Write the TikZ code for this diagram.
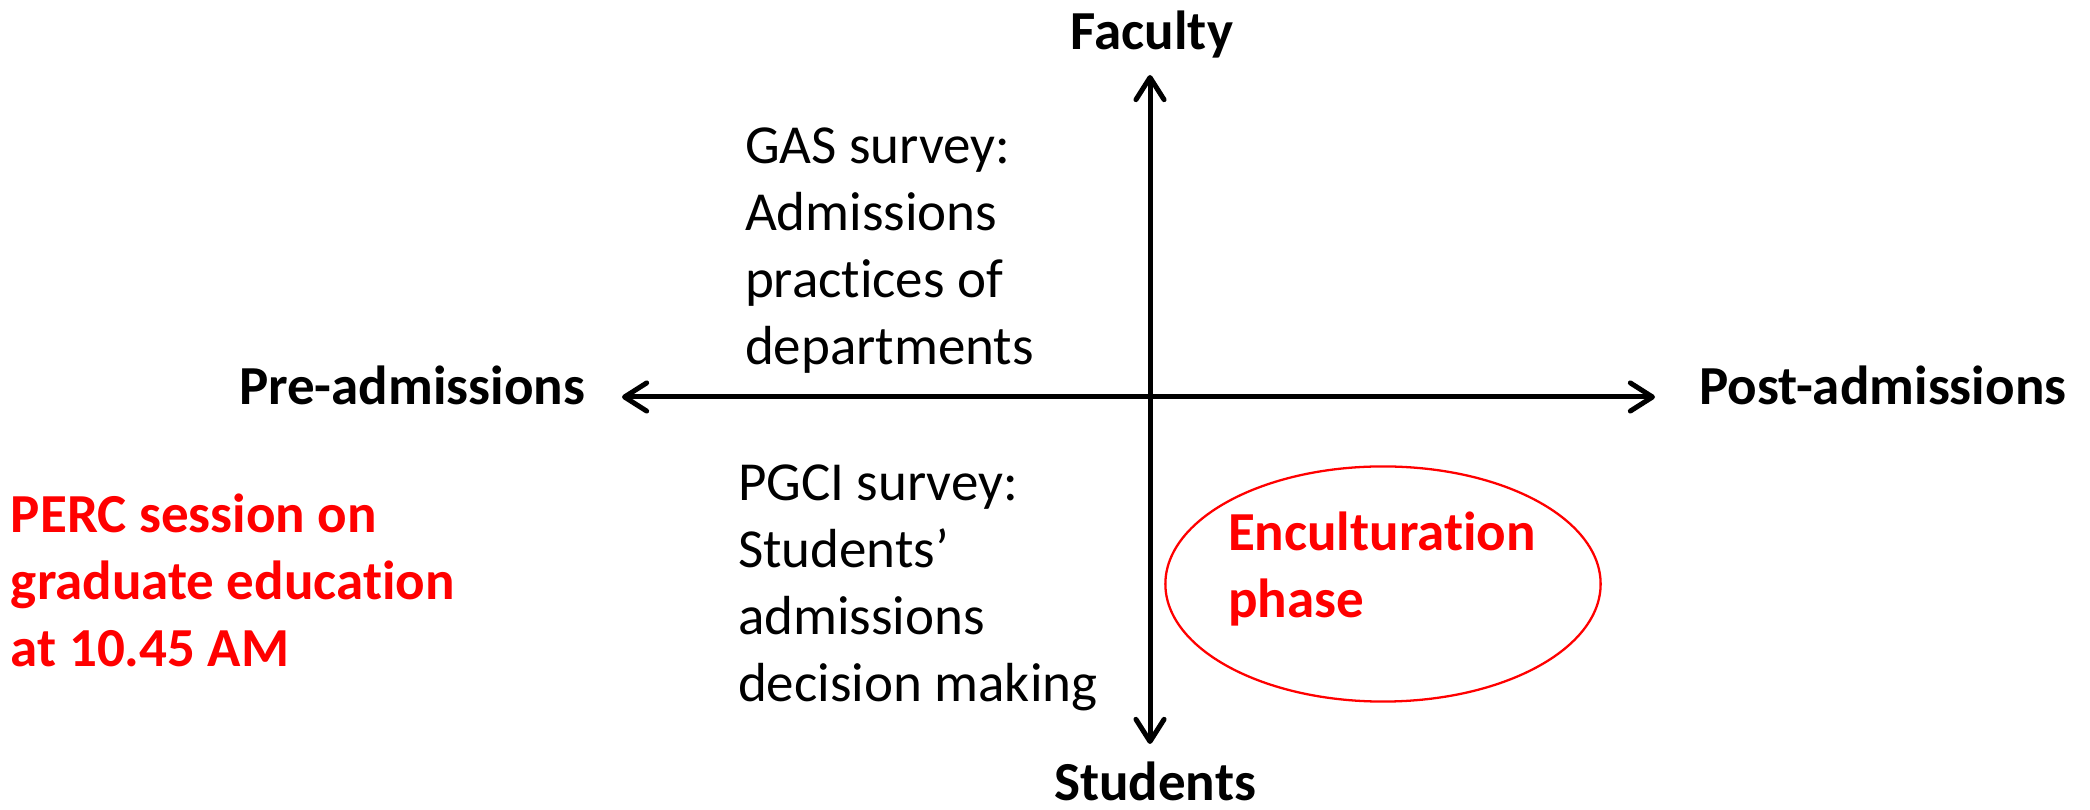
\documentclass[tikz,border=0pt]{standalone}
\usepackage{fontspec}
\setmainfont{Carlito}[Ligatures=NoCommon]
\usetikzlibrary{arrows.meta,shapes.geometric}
\definecolor{accent}{RGB}{255,0,0}
\begin{document}
\begin{tikzpicture}[x=0.01cm,y=-0.01cm,
  every node/.style={inner sep=0pt,outer sep=0pt},
  txt/.style={font=\fontsize{15.65pt}{19.06pt}\selectfont,align=left,anchor=base west},
  axislabel/.style={font=\fontsize{15.65pt}{19.06pt}\selectfont\bfseries},
  redtxt/.style={txt,text=accent,font=\fontsize{15.65pt}{19.06pt}\selectfont\bfseries},
  axis/.style={line width=1.42pt,{Straight Barb[length=6.3pt,width=8pt,round]}-{Straight Barb[length=6.3pt,width=8pt,round]}},
  ring/.style={draw=accent,line width=0.65pt,ellipse,minimum width=4.35cm,minimum height=2.35cm}
]
\useasboundingbox (0,0) rectangle (2090,810);

% axis end points
\coordinate (ytop) at (1150,75);
\coordinate (ybot) at (1150,744);
\coordinate (xleft) at (622,397);
\coordinate (xright) at (1655,397);

\draw[axis] (xleft) -- (xright);
\draw[axis] (ybot) -- (ytop);

% axis labels
\node[axislabel,anchor=base] (faculty) at (1152,50) {Faculty};
\node[axislabel,anchor=base] (students) at (1155,801) {Students};
\node[axislabel,anchor=base west] (pre) at (239,405) {Pre-admissions};
\node[axislabel,anchor=base west] (post) at (1699,405) {Post-admissions};

% quadrant texts (placed by the baseline of their last line)
\node[txt] (gas) at (745,365) {GAS survey:\\Admissions\\practices of\\departments};
\node[txt] (pgci) at (738,702) {PGCI survey:\\Students’\\admissions\\decision making};

% session note
\node[redtxt] (perc) at (11,667) {PERC session on\\graduate education\\at 10.45 AM};

% enculturation phase
\node[ring] (phase) at (1383,584) {};
\node[redtxt] (encult) at (1228,618) {Enculturation\\phase};
\end{tikzpicture}
\end{document}
